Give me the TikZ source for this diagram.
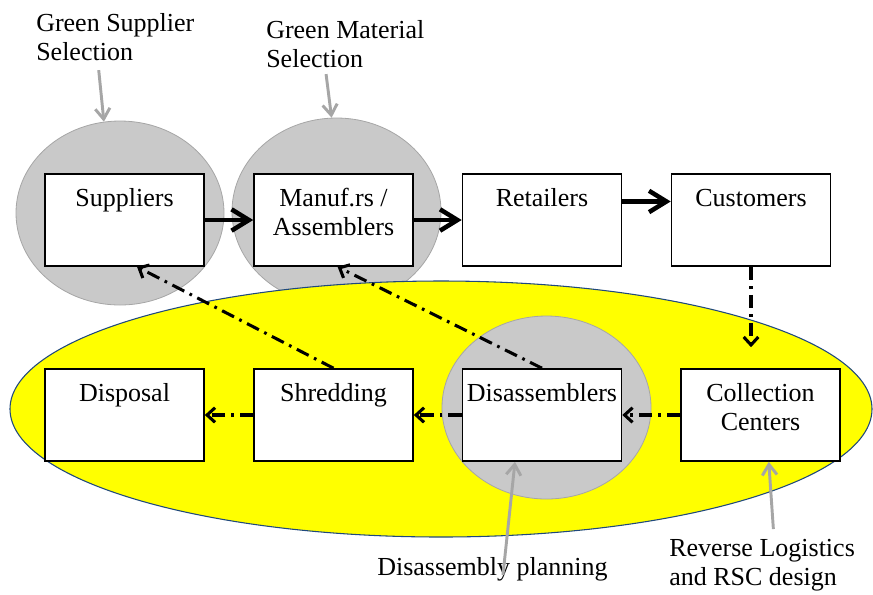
\documentclass[tikz,border=0pt]{standalone}
\usepackage{fontspec}
\setmainfont{Liberation Serif}
\usetikzlibrary{shapes.geometric,arrows.meta}

\newlength{\du}
\setlength{\du}{15\unitlength}

\definecolor{rscyellow}{rgb}{1.000000, 1.000000, 0.000000}
\definecolor{rscblue}{rgb}{0.121569, 0.282353, 0.490196}
\definecolor{focusgray}{rgb}{0.788235, 0.788235, 0.788235}
\definecolor{focusline}{rgb}{0.650980, 0.650980, 0.650980}

\newcommand{\boxtext}[1]{\parbox[c][4.600000\du][t]{7.950000\du}{\centering\vspace*{0.580000\du}\strut #1}}

\tikzset{
  dianode/.style={font=\fontsize{19.5}{22}\selectfont, inner sep=0pt},
  stagebox/.style={dianode, draw=black, fill=white, line width=1.2pt},
  focus/.style={ellipse, draw=focusline, fill=focusgray, line width=0.6pt, inner sep=0pt},
  flowline/.style={line width=3.4pt, -{Straight Barb[length=13pt,width=16pt]}},
  backline/.style={line width=2.3pt, dash pattern=on 10pt off 4.5pt on 2pt off 4.5pt, -{Straight Barb[length=6pt,width=11pt]}},
  noteline/.style={line width=2.2pt, draw=focusline, -{Straight Barb[length=8pt,width=11pt]}}
}

\begin{document}
\begin{tikzpicture}
\pgftransformxscale{1.000000}
\pgftransformyscale{-1.000000}
\useasboundingbox (0\du,0\du) rectangle (43.650000\du,29.700000\du);
% grey focus areas behind the forward chain
\node[focus, minimum width=10.400000\du, minimum height=9.200000\du] (supc) at (6.000000\du,10.650000\du) {};
\node[focus, minimum width=10.450000\du, minimum height=9.350000\du] (manc) at (16.825000\du,10.575000\du) {};
% reverse supply chain
\node[ellipse, draw=rscblue, fill=rscyellow, line width=0.8pt, inner sep=0pt, minimum width=43.100000\du, minimum height=12.800000\du] (rsc) at (22.050000\du,20.450000\du) {};
\node[focus, minimum width=10.450000\du, minimum height=9.150000\du] (disc) at (27.325000\du,20.375000\du) {};
% stages
\node[stagebox] (sup) at (6.225000\du,11.000000\du) {\boxtext{Suppliers}};
\node[stagebox] (man) at (16.675000\du,11.000000\du) {\boxtext{Manuf.rs /\\Assemblers}};
\node[stagebox] (ret) at (27.100000\du,11.000000\du) {\boxtext{Retailers}};
\node[stagebox] (cus) at (37.550000\du,11.000000\du) {\boxtext{Customers}};
\node[stagebox] (col) at (38.025000\du,20.750000\du) {\boxtext{Collection\\Centers}};
\node[stagebox] (dis) at (27.100000\du,20.750000\du) {\boxtext{Disassemblers}};
\node[stagebox] (shr) at (16.675000\du,20.750000\du) {\boxtext{Shredding}};
\node[stagebox] (dsp) at (6.225000\du,20.750000\du) {\boxtext{Disposal}};
% notes
\node[dianode, anchor=north west, align=left] (gss) at (1.800000\du,0.650000\du) {Green Supplier\\Selection};
\node[dianode, anchor=north west, align=left] (gms) at (13.300000\du,1.000000\du) {Green Material\\Selection};
\node[dianode, anchor=base west] (dp) at (18.850000\du,28.750000\du) {Disassembly planning};
\node[dianode, anchor=north west, align=left] (rl) at (33.450000\du,26.950000\du) {Reverse Logistics\\and RSC design};
% forward flow
\draw[flowline] (sup.east) -- (man.west);
\draw[flowline] (man.east) -- (ret.west);
\draw[flowline] (ret.13) -- (ret.13 -| cus.west);
% return flow
\draw[backline, shorten >=1.050000\du] (cus.south) -- (cus.south |- col.north);
\draw[backline] (col.west) -- (dis.east);
\draw[backline] (dis.west) -- (shr.east);
\draw[backline] (shr.west) -- (dsp.east);
\draw[backline] (shr.north) -- (sup.-75);
\draw[backline] (dis.north) -- (man.-85);
% note pointers
\draw[noteline, shorten <=0.450000\du] ([xshift=-0.875000\du]gss.south) -- (supc.100);
\draw[noteline, shorten <=0.300000\du] ([xshift=-1.000000\du]gms.south) -- (manc.93);
\draw[noteline] ([xshift=0.525000\du]dp.base) -- (dis.-120);
\draw[noteline, shorten <=0.500000\du] ([xshift=0.600000\du]rl.north) -- (col.-80);
\end{tikzpicture}
\end{document}
